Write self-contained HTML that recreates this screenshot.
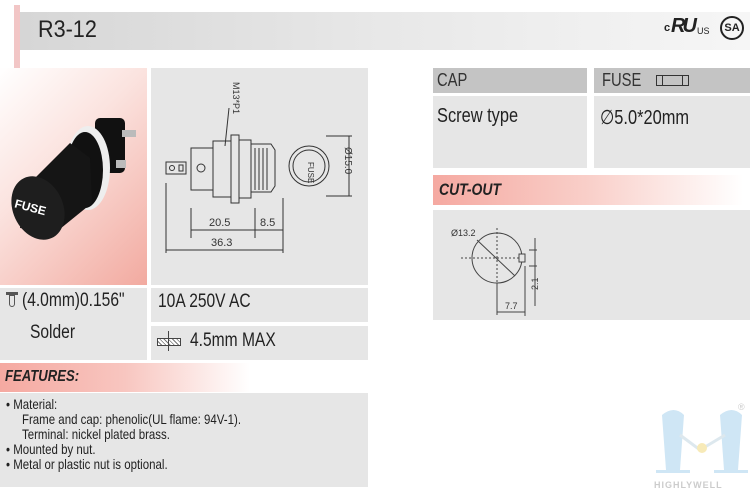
<!DOCTYPE html>
<html><head><meta charset="utf-8"><style>
*{margin:0;padding:0;box-sizing:border-box}
body{width:750px;height:490px;background:#fff;position:relative;overflow:hidden;font-family:"Liberation Sans",sans-serif;color:#222}
.a{position:absolute}
.n{display:inline-block;transform:scaleX(.82);transform-origin:left center;white-space:nowrap}
.g{background:#e6e6e6}
.h{background:#c4c4c4}
</style></head><body>
<div class="a" style="left:14px;top:5px;width:6px;height:63px;background:#f2c6c6"></div>
<div class="a" style="left:20px;top:12px;width:730px;height:38px;background:linear-gradient(90deg,#d6d6d6,#e8e8e8 50%,#f6f6f6)"></div>
<div class="a" style="left:38px;top:16px;font-size:24px"><span class="n" style="transform:scaleX(.9)">R3-12</span></div>
<div class="a" style="left:664px;top:22px;font-size:11px;font-weight:bold">c</div>
<div class="a" style="left:671px;top:15px;font-size:20px;font-weight:bold;font-style:italic;letter-spacing:-3px">RU</div>
<div class="a" style="left:697px;top:26px;font-size:9px">US</div>
<div class="a" style="left:720px;top:16px;width:24px;height:24px;border:2px solid #222;border-radius:50%;font-size:11px;font-weight:bold;text-align:center;line-height:20px">SA</div>

<!-- photo -->
<div class="a" style="left:0;top:68px;width:147px;height:217px;background:linear-gradient(135deg,#fff 0%,#fbe3df 40%,#f2aaa0 100%)"></div>
<svg class="a" style="left:0;top:68px" width="147" height="217">
<rect x="95" y="50" width="30" height="55" rx="5" fill="#111"/>
<rect x="122" y="62" width="14" height="7" fill="#bbb"/>
<rect x="116" y="92" width="10" height="8" fill="#bbb"/>
<ellipse cx="88" cy="100" rx="22" ry="42" fill="#eee"/>
<ellipse cx="85" cy="102" rx="18" ry="38" fill="#111"/>
<path d="M25 120 L70 75 L90 90 L92 135 L55 165 L20 160Z" fill="#151515"/>
<ellipse cx="38" cy="140" rx="25" ry="33" fill="#1e1e1e" transform="rotate(-25 38 140)"/>
<text x="14" y="142" font-size="12" font-weight="bold" fill="#fff" transform="rotate(15 25 140)">FUSE</text>
</svg>

<!-- drawing -->
<div class="a g" style="left:151px;top:68px;width:217px;height:217px"></div>
<svg class="a" style="left:151px;top:68px" width="217" height="217" fill="none" stroke="#333" stroke-width="1">
<path d="M15 94 h20 v12 h-20 z"/><circle cx="21" cy="100" r="2.5"/><rect x="28" y="97" width="4" height="6"/>
<rect x="40" y="80" width="22" height="42"/><circle cx="50" cy="100" r="4"/>
<rect x="62" y="73" width="18" height="56"/>
<rect x="80" y="67" width="8" height="68"/>
<rect x="88" y="72" width="12" height="58"/>
<path d="M100 76 h20 l4 6 v36 l-4 6 h-20"/>
<path d="M104 80v42M108 80v42M112 80v42M116 80v42"/>
<circle cx="158" cy="98" r="20"/><circle cx="158" cy="98" r="16"/>
<text x="150" y="95" font-size="8" fill="#333" stroke="none" transform="rotate(90 154 98)" font-family="Liberation Sans">FUSE</text>
<path d="M175 68 h26 M175 128 h26 M198 68 v60"/>
<text x="175" y="98" font-size="10" fill="#333" stroke="none" transform="rotate(90 194 98)" font-family="Liberation Sans">Ø15.0</text>
<text x="82" y="14" font-size="9" fill="#333" stroke="none" transform="rotate(90 82 14)" font-family="Liberation Sans">M13*P1</text>
<path d="M78 40 L74 78"/>
<path d="M15 115 v70 M40 140 v30 M104 140 v30 M132 130 v55"/>
<path d="M40 162 h64 M104 162 h28 M15 182 h117"/>
<text x="58" y="158" font-size="11" fill="#333" stroke="none" font-family="Liberation Sans">20.5</text>
<text x="109" y="158" font-size="11" fill="#333" stroke="none" font-family="Liberation Sans">8.5</text>
<text x="60" y="178" font-size="11" fill="#333" stroke="none" font-family="Liberation Sans">36.3</text>
</svg>

<!-- row 2 -->
<div class="a g" style="left:0;top:288px;width:147px;height:72px"></div>
<div class="a" style="left:6px;top:292px;width:12px;height:3px;background:#555"></div>
<div class="a" style="left:9px;top:295px;width:6px;height:12px;border:1.5px solid #555;border-radius:0 0 3px 3px"></div>
<div class="a" style="left:22px;top:290px;font-size:19px"><span class="n">(4.0mm)0.156"</span></div>
<div class="a" style="left:30px;top:322px;font-size:19px"><span class="n">Solder</span></div>
<div class="a g" style="left:151px;top:288px;width:217px;height:34px"></div>
<div class="a" style="left:158px;top:291px;font-size:19px"><span class="n">10A 250V AC</span></div>
<div class="a g" style="left:151px;top:326px;width:217px;height:34px"></div>
<div class="a" style="left:157px;top:338px;width:24px;height:8px;border:1px solid #444;background:repeating-linear-gradient(45deg,#fff 0 2px,#777 2px 3px)"></div>
<div class="a" style="left:168px;top:331px;width:1px;height:20px;background:#444"></div>
<div class="a" style="left:190px;top:330px;font-size:19px"><span class="n">4.5mm MAX</span></div>

<!-- features -->
<div class="a" style="left:0;top:363px;width:250px;height:29px;background:linear-gradient(90deg,#f5a9a1,#f8c6c0 50%,#fff)"></div>
<div class="a" style="left:5px;top:368px;font-size:16px;font-weight:bold;font-style:italic"><span class="n">FEATURES:</span></div>
<div class="a g" style="left:0;top:393px;width:368px;height:94px"></div>
<div class="a" style="left:6px;top:397px;font-size:14px;line-height:15px"><span class="n">• Material:<br>&nbsp;&nbsp;&nbsp;&nbsp;&nbsp;Frame and cap: phenolic(UL flame: 94V-1).<br>&nbsp;&nbsp;&nbsp;&nbsp;&nbsp;Terminal: nickel plated brass.<br>• Mounted by nut.<br>• Metal or plastic nut is optional.</span></div>

<!-- right -->
<div class="a h" style="left:433px;top:68px;width:154px;height:25px"></div>
<div class="a" style="left:437px;top:70px;font-size:18px;color:#333"><span class="n">CAP</span></div>
<div class="a h" style="left:594px;top:68px;width:156px;height:25px"></div>
<div class="a" style="left:602px;top:70px;font-size:18px;color:#333"><span class="n">FUSE</span></div>
<div class="a" style="left:656px;top:75px;width:33px;height:11px;border:1.5px solid #333"></div>
<div class="a" style="left:662px;top:75px;width:21px;height:11px;border-left:1.5px solid #333;border-right:1.5px solid #333"></div>
<div class="a g" style="left:433px;top:96px;width:154px;height:72px"></div>
<div class="a" style="left:437px;top:105px;font-size:20px"><span class="n">Screw type</span></div>
<div class="a g" style="left:594px;top:96px;width:156px;height:72px"></div>
<div class="a" style="left:600px;top:105px;font-size:20px"><span class="n">∅5.0*20mm</span></div>
<div class="a" style="left:433px;top:175px;width:310px;height:30px;background:linear-gradient(90deg,#f5a9a1,#f9cfc9 50%,#fff)"></div>
<div class="a" style="left:439px;top:180px;font-size:17px;font-weight:bold;font-style:italic"><span class="n">CUT-OUT</span></div>
<div class="a g" style="left:433px;top:210px;width:317px;height:110px"></div>
<svg class="a" style="left:433px;top:210px" width="120" height="110" fill="none" stroke="#444" stroke-width="1">
<circle cx="64" cy="48" r="25"/>
<rect x="86" y="44" width="6" height="8" fill="#e6e6e6"/>
<path d="M86 44 h6 v8 h-6"/>
<path d="M64 18 v80 M28 48 h58" stroke-dasharray="2 2"/>
<path d="M44 30 L82 66"/>
<path d="M96 40 h8 M96 56 h8 M102 28 v68 M64 73 v32 M92 56 v50 M64 102 h28"/>
<text x="18" y="26" font-size="9" fill="#333" stroke="none" font-family="Liberation Sans">Ø13.2</text>
<text x="72" y="99" font-size="9" fill="#333" stroke="none" font-family="Liberation Sans">7.7</text>
<text x="93" y="80" font-size="9" fill="#333" stroke="none" transform="rotate(-90 99 74)" font-family="Liberation Sans">2.1</text>
</svg>

<!-- logo -->
<svg class="a" style="left:650px;top:400px" width="100" height="90">
<path d="M12 15 q12 -10 22 0 l-4 55 h10 v3 h-34 v-3 h10z" fill="#cfe6f5"/>
<path d="M70 15 q12 -10 22 0 l-4 55 h10 v3 h-34 v-3 h10z" fill="#cfe6f5"/>
<path d="M30 35 L50 50 L75 35" stroke="#dde8ee" stroke-width="3" fill="none"/>
<circle cx="52" cy="48" r="5" fill="#f7eab8"/>
<text x="88" y="10" font-size="9" fill="#ccc">®</text>
<text x="4" y="88" font-size="9" font-weight="bold" fill="#ccc" letter-spacing="1">HIGHLYWELL</text>
</svg>
</body></html>
